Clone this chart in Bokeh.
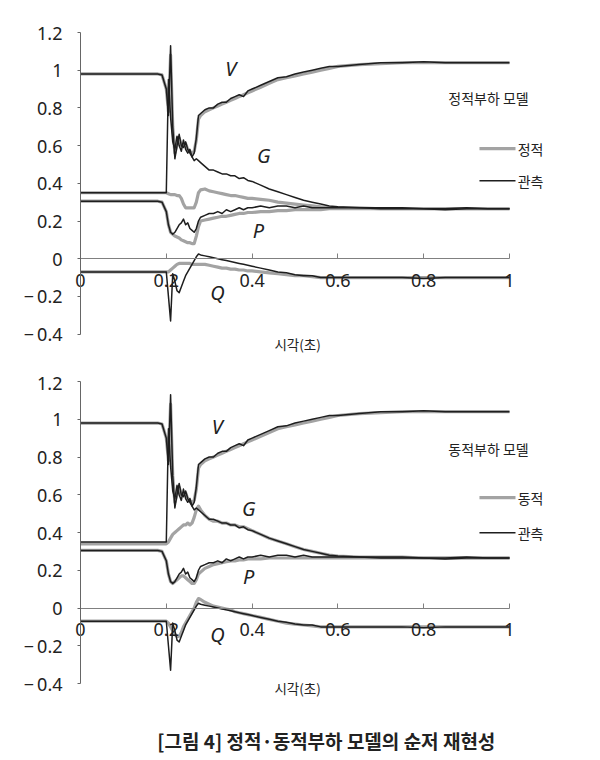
from bokeh.plotting import figure
from bokeh.layouts import column
from bokeh.models import FixedTicker
from bokeh.core.properties import value
from bokeh.embed import file_html
from bokeh.resources import INLINE

# ---------------- data ----------------
T = [0.0, 0.18, 0.19, 0.2, 0.205, 0.21, 0.215, 0.22, 0.225, 0.23, 0.235, 0.24, 0.245, 0.25,
     0.255, 0.26, 0.265, 0.27, 0.275, 0.28, 0.29, 0.30, 0.31, 0.32, 0.33, 0.34, 0.35, 0.36,
     0.37, 0.38, 0.39, 0.40, 0.42, 0.44, 0.46, 0.48, 0.50, 0.52, 0.54, 0.56, 0.58, 0.60,
     0.65, 0.70, 0.75, 0.80, 0.85, 0.90, 0.95, 1.00]

V_obs = [0.98, 0.98, 0.975, 0.9, 0.76, 1.13, 0.7, 0.53, 0.6, 0.66, 0.6, 0.59, 0.62, 0.58, 0.56,
         0.54, 0.56, 0.64, 0.76, 0.77, 0.79, 0.80, 0.80, 0.82, 0.83, 0.83, 0.85, 0.86, 0.87, 0.86,
         0.89, 0.90, 0.92, 0.94, 0.96, 0.965, 0.98, 0.99, 1.00, 1.01, 1.02, 1.02, 1.03, 1.04,
         1.04, 1.045, 1.04, 1.04, 1.04, 1.04]
V_model = [0.98, 0.98, 0.975, 0.9, 0.78, 1.08, 0.7, 0.56, 0.6, 0.64, 0.6, 0.6, 0.61, 0.58, 0.57,
           0.56, 0.57, 0.63, 0.74, 0.76, 0.78, 0.79, 0.80, 0.81, 0.82, 0.83, 0.84, 0.85, 0.86,
           0.87, 0.88, 0.89, 0.91, 0.93, 0.95, 0.96, 0.97, 0.98, 0.99, 1.00, 1.01, 1.02, 1.03,
           1.035, 1.04, 1.04, 1.04, 1.04, 1.04, 1.04]

G_obs = [0.35, 0.35, 0.35, 0.35, 0.95, 0.75, 0.62, 0.58, 0.65, 0.6, 0.57, 0.63, 0.58, 0.56, 0.58,
         0.54, 0.52, 0.53, 0.52, 0.51, 0.49, 0.47, 0.47, 0.46, 0.45, 0.45, 0.44, 0.44, 0.425,
         0.43, 0.415, 0.41, 0.39, 0.37, 0.355, 0.34, 0.325, 0.31, 0.30, 0.29, 0.28, 0.275, 0.27,
         0.27, 0.27, 0.265, 0.265, 0.27, 0.265, 0.265]
P_obs = [0.305, 0.305, 0.3, 0.25, 0.18, 0.14, 0.13, 0.14, 0.16, 0.18, 0.19, 0.21, 0.18, 0.19,
         0.16, 0.15, 0.14, 0.16, 0.2, 0.22, 0.23, 0.24, 0.24, 0.25, 0.24, 0.26, 0.25, 0.26, 0.27,
         0.26, 0.27, 0.27, 0.28, 0.27, 0.28, 0.28, 0.27, 0.28, 0.27, 0.27, 0.27, 0.27, 0.27,
         0.265, 0.265, 0.265, 0.26, 0.265, 0.265, 0.265]
Q_obs = [-0.07, -0.07, -0.07, -0.07, -0.2, -0.33, -0.08, -0.12, -0.17, -0.18, -0.15, -0.12,
         -0.09, -0.07, -0.05, -0.03, -0.01, 0.01, 0.025, 0.02, 0.015, 0.01, 0.005, 0.0, -0.005,
         -0.01, -0.015, -0.02, -0.025, -0.03, -0.035, -0.04, -0.05, -0.06, -0.07, -0.075, -0.085,
         -0.09, -0.09, -0.1, -0.1, -0.1, -0.1, -0.1, -0.1, -0.105, -0.1, -0.1, -0.1, -0.1]

G_static = [0.35, 0.35, 0.35, 0.35, 0.345, 0.34, 0.34, 0.34, 0.335, 0.335, 0.32, 0.29, 0.27,
            0.27, 0.27, 0.27, 0.27, 0.3, 0.35, 0.365, 0.37, 0.36, 0.355, 0.35, 0.345, 0.34, 0.335,
            0.335, 0.33, 0.325, 0.32, 0.32, 0.315, 0.31, 0.30, 0.295, 0.29, 0.285, 0.28, 0.275,
            0.27, 0.27, 0.27, 0.265, 0.265, 0.265, 0.265, 0.265, 0.265, 0.265]
P_static = [0.305, 0.305, 0.3, 0.25, 0.18, 0.14, 0.13, 0.12, 0.115, 0.11, 0.10, 0.095, 0.09,
            0.085, 0.085, 0.08, 0.08, 0.12, 0.17, 0.2, 0.205, 0.21, 0.215, 0.22, 0.225, 0.225,
            0.23, 0.235, 0.24, 0.24, 0.245, 0.245, 0.25, 0.25, 0.255, 0.255, 0.26, 0.26, 0.26,
            0.26, 0.265, 0.265, 0.265, 0.265, 0.265, 0.265, 0.265, 0.265, 0.265, 0.265]
Q_static = [-0.07, -0.07, -0.07, -0.07, -0.07, -0.06, -0.05, -0.04, -0.03, -0.025, -0.025,
            -0.025, -0.025, -0.025, -0.025, -0.03, -0.03, -0.03, -0.03, -0.03, -0.03, -0.035,
            -0.04, -0.045, -0.05, -0.05, -0.055, -0.055, -0.06, -0.06, -0.065, -0.065, -0.07,
            -0.075, -0.08, -0.085, -0.09, -0.09, -0.095, -0.1, -0.1, -0.1, -0.1, -0.1, -0.1,
            -0.1, -0.1, -0.1, -0.1, -0.1]

G_dynamic = [0.34, 0.34, 0.34, 0.34, 0.35, 0.37, 0.39, 0.40, 0.41, 0.42, 0.43, 0.44, 0.44, 0.45,
             0.44, 0.45, 0.48, 0.52, 0.54, 0.52, 0.49, 0.47, 0.46, 0.46, 0.45, 0.45, 0.44, 0.44,
             0.43, 0.43, 0.42, 0.41, 0.39, 0.37, 0.355, 0.34, 0.325, 0.31, 0.30, 0.29, 0.28,
             0.275, 0.27, 0.27, 0.27, 0.265, 0.265, 0.265, 0.265, 0.265]
P_dynamic = [0.305, 0.305, 0.3, 0.25, 0.18, 0.14, 0.13, 0.14, 0.15, 0.16, 0.17, 0.17, 0.16, 0.15,
             0.14, 0.13, 0.13, 0.15, 0.18, 0.19, 0.21, 0.22, 0.23, 0.235, 0.24, 0.245, 0.25, 0.25,
             0.255, 0.255, 0.26, 0.26, 0.26, 0.265, 0.265, 0.265, 0.265, 0.265, 0.265, 0.265,
             0.265, 0.265, 0.265, 0.265, 0.265, 0.265, 0.265, 0.265, 0.265, 0.265]
Q_dynamic = [-0.07, -0.07, -0.07, -0.07, -0.08, -0.1, -0.12, -0.14, -0.15, -0.15, -0.13, -0.1,
             -0.08, -0.06, -0.04, -0.02, 0.0, 0.03, 0.05, 0.045, 0.03, 0.02, 0.01, 0.005, 0.0,
             -0.005, -0.01, -0.02, -0.025, -0.03, -0.035, -0.04, -0.05, -0.06, -0.07, -0.08,
             -0.085, -0.09, -0.095, -0.1, -0.1, -0.1, -0.1, -0.1, -0.1, -0.1, -0.1, -0.1, -0.1,
             -0.1]

X_TICKS = [0, 0.2, 0.4, 0.6, 0.8, 1.0]
Y_TICKS = [-0.4, -0.2, 0, 0.2, 0.4, 0.6, 0.8, 1.0, 1.2]
Y_LABELS = {-0.4: "\u2212\u20090.4", -0.2: "\u2212\u20090.2", 0: "0", 1: "1"}
X_LABELS = {0: "0", 1: "1"}
SERIES_LETTERS = ["V", "G", "P", "Q"]
X_TITLE = "시각(초)"
CAPTION = "[그림 4] 정적·동적부하 모델의 순저 재현성"

# ---------------- styling ----------------
GREY = "#a3a3a3"
BLACK = "#1e1e1e"
TXT = "#222222"
NUM_FONT = "Noto Sans"
KR_FONT = "Noto Sans CJK KR"
PX_X = 429.0          # pixels per unit of time
X_RANGE = (-80 / PX_X, 512 / PX_X)   # frame spans the whole figure width (592 px)


def make_panel(height, top_gap, px_y, V_m, G_m, P_m, Q_m,
               title_txt, model_txt, letter_pos, legend_ys, xlabel_y):
    # the frame covers the whole figure; both axes are fixed at 0 inside it
    y_hi = 1.2 + top_gap / px_y
    y_lo = y_hi - height / px_y
    p = figure(width=592, height=height, x_range=X_RANGE, y_range=(y_lo, y_hi),
               min_border=0, toolbar_location=None, output_backend="svg")
    p.title.visible = False
    p.grid.visible = False
    p.outline_line_color = None
    p.background_fill_color = "white"

    xa = p.xaxis[0]
    xa.fixed_location = 0
    xa.ticker = FixedTicker(ticks=X_TICKS)
    xa.bounds = (0, 1)
    xa.major_tick_in = 5
    xa.major_tick_out = 0
    xa.minor_tick_line_color = None
    xa.major_label_overrides = X_LABELS
    xa.major_label_text_font = NUM_FONT
    xa.major_label_text_font_size = "18px"
    xa.major_label_text_color = TXT
    xa.major_label_standoff = 15
    xa.axis_line_color = "#808080"
    xa.major_tick_line_color = "#808080"

    ya = p.yaxis[0]
    ya.fixed_location = 0
    ya.ticker = FixedTicker(ticks=Y_TICKS)
    ya.bounds = (-0.4, 1.2)
    ya.major_tick_in = 0
    ya.major_tick_out = 3
    ya.minor_tick_line_color = None
    ya.major_label_overrides = Y_LABELS
    ya.major_label_text_font = NUM_FONT
    ya.major_label_text_font_size = "18px"
    ya.major_label_text_color = TXT
    ya.major_label_standoff = 15
    ya.axis_line_color = "#666666"
    ya.major_tick_line_color = "#666666"

    # model (grey, thick) then observed (black, thin)
    for ys in (V_m, G_m, P_m, Q_m):
        p.line(T, ys, line_color=GREY, line_width=3.2, line_join="round")
    for ys in (V_obs, G_obs, P_obs, Q_obs):
        p.line(T, ys, line_color=BLACK, line_width=1.5, line_join="round")

    # series letters
    p.text(x=[pp[0] for pp in letter_pos], y=[pp[1] for pp in letter_pos],
           text=SERIES_LETTERS, text_font=value(NUM_FONT), text_font_size=value("20px"),
           text_font_style="italic", text_color=TXT, text_align="center",
           text_baseline="middle")

    # legend
    p.text(x=[0.951], y=[legend_ys[0]], text=[title_txt], text_font=value(KR_FONT),
           text_font_size=value("14px"), text_color=TXT, text_align="center",
           text_baseline="middle")
    p.segment(x0=[0.93], y0=[legend_ys[1]], x1=[1.014], y1=[legend_ys[1]],
              line_color=GREY, line_width=3.2)
    p.segment(x0=[0.93], y0=[legend_ys[2]], x1=[1.014], y1=[legend_ys[2]],
              line_color=BLACK, line_width=1.5)
    p.text(x=[1.019, 1.019], y=[legend_ys[1], legend_ys[2]], text=[model_txt, "관측"],
           text_font=value(KR_FONT), text_font_size=value("14px"), text_color=TXT,
           text_align="left", text_baseline="middle")

    # x-axis title
    p.text(x=[0.506], y=[xlabel_y], text=[X_TITLE], text_font=value(KR_FONT),
           text_font_size=value("13.5px"), text_color=TXT, text_align="center",
           text_baseline="middle")
    return p


# top: 1.2 at y=32, 188.5 px per unit
p1 = make_panel(370, 32, 188.5, V_model, G_static, P_static, Q_static,
                "정적부하 모델", "정적",
                [(0.35, 1.011), (0.427, 0.546), (0.415, 0.149), (0.319, -0.180)],
                (0.854, 0.584, 0.414), -0.450)
# bottom: starts at y=370, 1.2 at y=381, 188.75 px per unit
p2 = make_panel(388, 11, 188.75, V_model, G_dynamic, P_dynamic, Q_dynamic,
                "동적부하 모델", "동적",
                [(0.319, 0.962), (0.392, 0.526), (0.392, 0.165), (0.319, -0.138)],
                (0.84, 0.585, 0.399), -0.426)

p2.text(x=[0.573], y=[1.2 - (740 - 381) / 188.75], text=[CAPTION], text_font=value(KR_FONT),
        text_font_size=value("19px"), text_font_style="bold", text_color=TXT,
        text_align="center", text_baseline="middle")

layout = column(p1, p2, spacing=0)
open("out.html", "w").write(file_html(layout, INLINE))
